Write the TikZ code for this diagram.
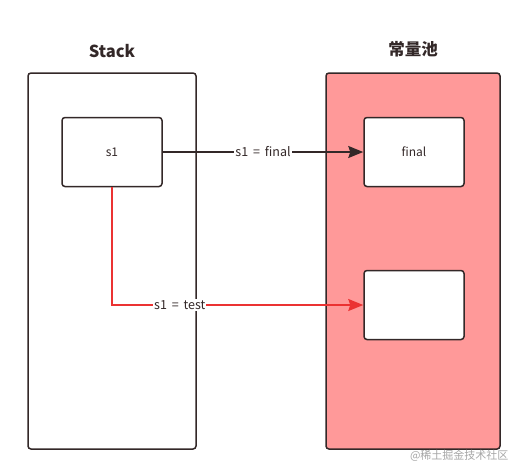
\documentclass[tikz,border=0pt]{standalone}
\usepackage{fontspec}
\setmainfont{Noto Sans CJK SC}
\usetikzlibrary{arrows.meta, positioning}
\definecolor{edge}{RGB}{51, 40, 40}
\definecolor{pool}{RGB}{255, 153, 153}
\definecolor{redline}{RGB}{235, 50, 50}

\begin{document}
\begin{tikzpicture}[
                x=1pt, y=-1pt,
                container/.style={rectangle, rounded corners=3pt, draw=edge, line width=1.5pt, minimum width=168pt, minimum height=376pt},
                cell/.style={rectangle, rounded corners=3pt, draw=edge, line width=1.5pt, fill=white, minimum width=100pt, minimum height=69pt, font=\fontsize{12}{14}\selectfont, text=edge},
                title/.style={font=\fontsize{16.5}{19}\selectfont\bfseries, text=edge},
                label/.style={fill=white, inner sep=1pt, font=\fontsize{12.5}{14}\selectfont, text=edge},
                arrow/.style={line width=1.5pt, -{Stealth[length=15pt, width=12pt, inset=2pt]}}
            ]%
            \useasboundingbox (0,0) rectangle (527,475);
            %
            % Bereiche
            \node[container] (stack) at (112,261) {};
            \node[container, fill=pool, minimum width=174pt] (pool) at (413,261) {};
            \node[title, above=11pt of stack] (stacktitle) {Stack};
            \node[title, above=12pt of pool] (pooltitle) {常量池};
            %
            % Zellen
            \node[cell] (s1) at (112,152) {s1};
            \node[cell] (final) at (414,152) {final};
            \node[cell] (test) at (414,305) {};
            %
            % Verbindungen
            \draw[arrow, edge] (s1) -- node[label] {s1 \,=\, final} (final);
            \draw[arrow, redline] (s1.south) |- node[label, pos=0.635] {s1 \,=\, test} (test.west);
            %
            % Wasserzeichen
            \node[font=\fontsize{11}{13}\selectfont, text=black!35, anchor=east] (mark) at (512,456) {@稀土掘金技术社区};
        \end{tikzpicture}
\end{document}
